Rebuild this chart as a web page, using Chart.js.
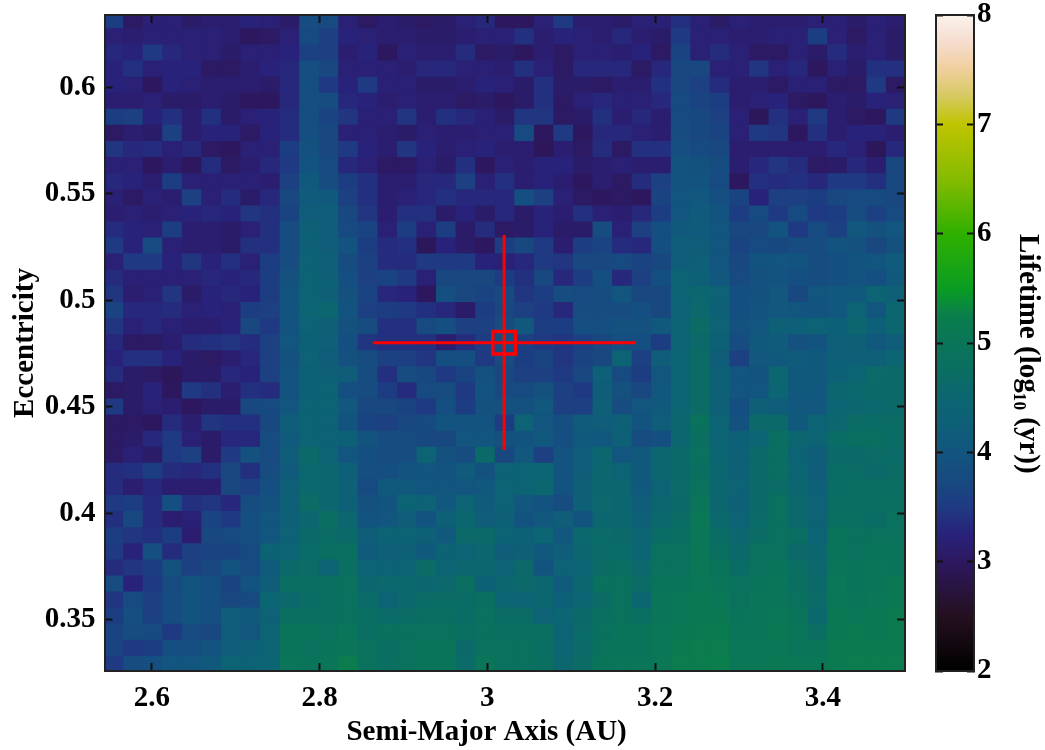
<!DOCTYPE html>
<html>
<head>
<meta charset="utf-8">
<title>Lifetime map</title>
<script src="https://cdn.jsdelivr.net/npm/chart.js@4/dist/chart.umd.js"></script>
<style>
  html, body { margin: 0; padding: 0; background: #fff; }
  #wrap { position: relative; width: 1045px; height: 750px; overflow: hidden; }
  canvas { position: absolute; top: 0; filter: blur(0.5px); }
  #heat { left: 0; }
  #bar { left: 915px; }
</style>
</head>
<body>
<div id="wrap">
  <canvas id="heat" width="915" height="750"></canvas>
  <canvas id="bar" width="130" height="750"></canvas>
</div>
<script>
// cell centres
const semiMajorAxis = [2.5548, 2.5781, 2.6014, 2.6247, 2.6481, 2.6714, 2.6947, 2.7180, 2.7413, 2.7647, 2.7880, 2.8113, 2.8346, 2.8579, 2.8813, 2.9046, 2.9279, 2.9512, 2.9745, 2.9979, 3.0212, 3.0445, 3.0678, 3.0911, 3.1145, 3.1378, 3.1611, 3.1844, 3.2077, 3.2311, 3.2544, 3.2777, 3.3010, 3.3243, 3.3477, 3.3710, 3.3943, 3.4176, 3.4409, 3.4643, 3.4876];
const eccentricity = [0.6310, 0.6235, 0.6159, 0.6084, 0.6008, 0.5933, 0.5857, 0.5782, 0.5706, 0.5631, 0.5555, 0.5480, 0.5404, 0.5329, 0.5253, 0.5178, 0.5102, 0.5027, 0.4951, 0.4876, 0.4800, 0.4725, 0.4649, 0.4574, 0.4498, 0.4423, 0.4347, 0.4272, 0.4196, 0.4121, 0.4045, 0.3970, 0.3894, 0.3819, 0.3743, 0.3668, 0.3592, 0.3517, 0.3441, 0.3366, 0.3290];

// log10 lifetime, one row per eccentricity (top of the plot first)
const lifetimeRows = [
  [3.55,3.05,3.2,3.2,3.1,3.15,3.15,3.25,3.2,3.1,3.8,3.75,3.2,3.05,3.15,3.1,3.05,3.1,3.2,3.3,3.0,3.0,3.2,3.5,3.15,3.15,3.1,3.2,3.2,3.4,3.2,3.1,3.2,3.15,3.15,3.15,3.2,3.2,3.1,3.2,3.15],
  [3.2,3.15,3.2,3.2,3.2,3.2,3.15,3.0,3.05,3.2,3.75,3.6,3.25,3.2,3.15,3.15,3.1,3.1,3.15,3.2,3.2,3.4,3.15,3.25,3.2,3.15,3.3,3.15,3.1,3.5,3.2,3.2,3.15,3.15,3.2,3.2,3.55,3.2,3.05,3.2,3.1],
  [3.3,3.25,3.5,3.3,3.2,3.2,3.1,3.2,3.2,3.25,3.6,3.6,3.15,3.25,3.0,3.2,3.15,3.15,3.35,3.05,3.1,3.0,3.15,3.05,3.2,3.2,3.15,3.25,3.05,3.65,3.2,3.35,3.2,3.05,3.05,3.2,3.1,3.35,3.15,3.2,3.1],
  [3.25,3.4,3.2,3.25,3.25,3.05,3.05,3.15,3.25,3.3,3.85,3.7,3.2,3.2,3.2,3.15,3.3,3.3,3.2,3.2,3.15,3.4,3.2,3.05,3.3,3.3,3.3,3.05,3.3,3.7,3.7,3.2,3.2,3.45,3.2,3.3,3.0,3.2,3.1,3.4,3.4],
  [3.25,3.2,3.0,3.25,3.2,3.15,3.15,3.15,3.1,3.3,3.85,3.5,3.25,3.5,3.2,3.2,3.1,3.1,3.15,3.25,3.2,3.1,3.4,3.1,3.1,3.05,3.15,3.15,3.4,3.7,3.6,3.35,3.15,3.15,3.05,3.2,3.2,3.05,3.05,3.5,3.05],
  [3.15,3.15,3.2,3.1,3.1,3.15,3.1,3.0,3.0,3.3,3.85,3.8,3.3,3.25,3.15,3.2,3.15,3.15,3.05,3.1,3.0,3.1,3.4,3.05,3.2,3.3,3.2,3.2,3.3,3.75,3.65,3.55,3.15,3.2,3.25,3.05,3.0,3.15,3.1,3.25,3.2],
  [3.55,3.6,3.25,3.4,3.15,3.4,3.1,3.2,3.25,3.35,3.85,3.65,3.45,3.2,3.2,3.45,3.15,3.4,3.3,3.2,3.1,3.45,3.45,3.05,3.1,3.4,3.15,3.3,3.15,3.75,3.7,3.6,3.2,2.95,3.4,3.2,3.5,3.15,3.05,3.0,3.5],
  [3.05,3.15,3.1,3.6,3.15,3.25,3.25,3.05,3.25,3.35,3.85,3.7,3.2,3.2,3.15,3.1,3.2,3.15,3.15,3.2,3.2,3.75,3.0,3.5,3.0,3.3,3.3,3.2,3.15,3.8,3.7,3.65,3.2,3.5,3.45,3.0,3.4,3.15,3.25,3.25,3.15],
  [3.45,3.3,3.35,3.2,3.3,3.05,3.0,3.2,3.2,3.55,3.9,3.7,3.5,3.25,3.15,3.45,3.25,3.15,3.2,3.25,3.15,3.15,2.95,3.15,3.05,3.35,3.05,3.4,3.4,3.85,3.75,3.7,3.15,3.15,3.15,3.15,3.15,3.3,3.2,2.95,3.3],
  [3.2,3.2,3.0,3.15,3.0,3.35,3.05,3.15,3.3,3.5,3.95,3.75,3.3,3.2,3.05,3.05,3.2,3.1,3.4,3.0,3.2,3.15,3.25,3.25,3.1,3.15,3.2,3.15,3.15,3.95,3.9,3.8,3.15,3.3,3.45,3.35,3.05,3.1,3.3,3.15,3.7],
  [3.3,3.25,3.15,3.55,3.2,3.2,3.2,3.2,3.15,3.6,4.1,3.8,3.55,3.4,3.15,3.15,3.3,3.3,3.6,3.2,3.4,3.15,3.25,3.15,3.0,3.15,3.05,3.35,3.6,3.95,3.95,3.75,3.0,3.4,3.35,3.4,3.3,3.5,3.5,3.4,3.7],
  [3.2,3.05,3.2,3.15,3.6,3.2,3.35,3.1,3.3,3.7,4.15,4.1,3.6,3.4,3.15,3.2,3.3,3.4,3.3,3.3,3.3,3.85,3.6,3.2,3.05,3.0,3.05,3.0,3.65,4.0,4.05,3.85,3.65,3.25,3.6,3.6,3.55,3.7,3.75,3.75,3.7],
  [3.15,3.2,3.15,3.2,3.25,3.3,3.25,3.45,3.4,3.65,4.2,4.2,3.7,3.45,3.15,3.4,3.4,3.1,3.25,3.1,3.3,3.1,3.25,3.15,3.4,3.2,3.15,3.3,3.55,4.0,4.15,3.95,3.55,3.75,3.5,3.75,3.5,3.55,3.8,3.6,3.75],
  [3.35,3.25,3.2,3.55,3.15,3.15,3.1,3.2,3.4,3.8,4.3,4.2,3.75,3.65,3.2,3.55,3.2,3.55,3.1,3.35,3.05,3.1,3.25,3.1,3.1,3.8,3.2,3.6,3.85,4.1,4.15,4.0,3.7,3.7,3.95,3.5,3.75,3.6,4.05,3.9,4.0],
  [3.5,3.25,3.75,3.2,3.15,3.15,3.1,3.4,3.4,3.8,4.3,4.2,3.95,3.55,3.35,3.4,2.95,3.25,3.1,3.0,3.55,3.7,3.5,3.15,3.55,3.65,3.35,3.3,3.85,4.2,4.2,4.0,3.65,3.75,3.7,3.8,3.8,3.95,3.9,3.7,3.9],
  [3.2,3.5,3.5,3.25,3.45,3.25,3.4,3.2,3.55,3.8,4.35,4.25,3.8,3.6,3.35,3.35,3.5,3.5,3.5,3.25,3.2,3.3,3.5,3.45,3.7,3.7,3.75,3.65,3.7,4.2,4.25,4.0,3.7,3.95,4.0,3.95,3.8,3.85,3.95,4.0,4.15],
  [3.35,3.2,3.2,3.2,3.2,3.3,3.25,3.3,3.55,3.9,4.4,4.3,3.85,3.6,3.65,3.5,3.2,3.7,3.7,3.7,3.55,3.4,3.7,3.3,3.55,3.85,3.3,3.6,3.85,4.4,4.3,4.05,3.75,3.9,3.95,3.85,3.8,3.85,3.95,3.85,4.1],
  [3.45,3.15,3.2,3.45,3.1,3.25,3.3,3.25,3.55,3.95,4.4,4.3,3.9,3.65,3.3,3.25,3.0,3.85,3.7,3.65,3.75,3.45,3.55,3.8,3.75,3.8,4.0,3.7,3.7,4.4,4.5,4.35,3.85,3.9,4.05,3.7,4.0,4.05,4.1,4.4,4.3],
  [3.65,3.3,3.3,3.35,3.2,3.25,3.2,3.55,3.6,3.95,4.45,4.5,3.95,3.6,3.55,3.5,3.4,3.3,3.1,3.55,3.7,3.6,3.5,3.3,3.8,3.8,3.8,3.85,3.7,4.35,4.55,4.3,3.85,3.95,4.05,4.0,3.95,4.05,4.4,4.0,4.5],
  [3.45,3.2,3.3,3.2,3.15,3.15,3.25,3.7,3.5,3.95,4.35,4.3,3.9,3.8,3.4,3.4,3.75,3.85,3.6,3.6,3.8,4.05,3.55,3.55,3.85,3.85,3.9,3.9,4.1,4.4,4.7,4.35,3.9,4.0,4.3,4.25,4.35,4.25,4.5,4.25,4.5],
  [3.3,3.05,3.05,3.15,3.35,3.4,3.45,3.35,3.6,4.0,4.3,4.25,3.85,3.45,3.4,3.4,3.4,3.15,3.35,3.55,3.85,3.6,3.5,3.45,3.6,3.7,3.85,3.85,3.55,4.4,4.6,4.3,3.8,4.1,4.15,3.9,3.95,4.25,4.3,4.1,4.2],
  [3.25,3.4,3.4,3.25,3.1,3.05,3.15,3.3,3.6,3.9,4.35,4.2,3.9,3.8,3.6,3.6,3.45,3.85,3.85,3.5,3.8,3.55,3.65,3.45,3.65,3.7,4.4,3.6,4.2,4.45,4.7,4.2,3.6,4.05,4.1,4.15,4.1,4.25,4.25,4.25,4.45],
  [3.35,3.1,3.05,2.95,3.1,3.1,3.3,3.25,3.6,3.95,4.3,4.3,4.2,3.8,3.4,3.8,3.7,3.5,3.65,3.9,3.7,3.6,3.6,3.5,3.7,4.25,3.75,3.55,4.0,4.45,4.7,4.3,4.0,3.95,4.5,4.1,4.1,4.3,4.45,4.65,4.6],
  [3.05,3.1,3.25,3.0,3.5,3.4,3.15,3.4,3.35,3.95,4.3,4.4,3.85,3.8,3.55,3.35,3.75,3.8,3.5,3.95,3.75,3.75,3.9,3.6,3.5,4.2,3.9,3.7,4.05,4.45,4.7,4.3,4.0,4.0,4.45,4.1,4.05,4.5,4.55,4.6,4.6],
  [3.5,3.1,3.2,3.15,3.0,3.1,3.1,3.7,3.75,4.0,4.4,4.4,4.05,3.7,3.7,3.65,3.5,3.85,3.55,3.9,3.9,3.9,4.05,3.6,3.6,4.3,3.8,4.0,4.1,4.45,4.7,4.3,3.85,4.3,4.2,4.05,4.05,4.45,4.5,4.55,4.6],
  [3.05,3.05,3.0,3.35,3.15,3.45,3.4,3.4,3.7,4.2,4.4,4.35,3.95,3.65,3.6,3.7,3.75,3.95,3.95,3.95,3.55,4.35,4.0,3.85,4.15,4.2,4.3,3.95,4.2,4.5,4.9,4.4,3.9,4.6,4.6,4.1,4.4,4.5,4.7,4.7,4.7],
  [3.05,3.1,3.3,3.5,3.2,3.1,3.3,3.3,3.8,4.15,4.4,4.35,4.3,3.95,3.8,3.8,3.7,3.7,4.0,4.0,3.9,3.95,4.05,3.85,4.1,4.05,4.3,3.8,3.85,4.5,4.8,4.4,4.3,4.45,4.8,4.5,4.4,4.7,4.8,4.8,4.7],
  [3.05,3.2,3.1,3.5,3.6,3.1,3.5,3.9,3.75,4.2,4.6,4.4,4.0,3.85,3.8,3.8,4.4,3.9,3.8,4.6,3.7,4.05,3.6,3.95,4.2,4.5,4.0,4.1,4.5,4.6,4.85,4.45,4.3,4.6,4.75,4.4,4.2,4.6,4.6,4.7,4.65],
  [3.35,3.4,3.55,3.35,3.3,3.4,3.7,3.4,3.8,4.15,4.55,4.5,4.25,3.85,3.85,3.95,4.0,3.95,4.15,3.9,4.35,4.4,4.45,3.95,4.2,4.5,4.4,4.1,4.5,4.6,4.8,4.5,4.3,4.6,4.75,4.45,4.2,4.7,4.7,4.6,4.7],
  [3.35,3.15,3.3,3.15,3.15,3.15,3.7,3.6,3.85,4.3,4.55,4.5,4.3,3.75,4.1,4.1,4.0,4.0,4.0,4.05,4.4,4.4,4.5,3.95,4.3,4.5,4.5,4.1,4.4,4.65,4.9,4.5,4.35,4.6,4.7,4.5,4.25,4.7,4.75,4.75,4.75],
  [3.5,3.55,3.35,3.85,3.4,3.45,3.3,3.8,3.9,4.3,4.7,4.5,4.3,3.9,3.95,4.4,4.35,4.05,4.4,4.15,4.35,4.05,3.95,3.8,4.3,4.55,4.5,4.2,4.5,4.6,5.0,4.5,4.3,4.6,4.85,4.55,4.35,4.75,4.75,4.75,4.8],
  [3.4,3.7,3.35,3.15,3.2,3.65,3.5,3.85,4.0,4.3,4.5,4.75,4.5,3.95,4.0,4.2,3.95,4.3,4.5,4.2,4.3,3.95,4.05,4.2,3.95,4.5,4.5,4.3,4.55,4.7,5.05,4.55,4.35,4.65,4.85,4.55,4.35,4.8,4.8,4.7,4.85],
  [3.55,3.45,3.4,3.55,3.15,3.7,3.75,3.85,4.0,4.35,4.6,4.7,4.6,4.2,4.4,4.4,4.3,4.1,4.6,4.6,4.4,4.3,4.45,4.05,4.55,4.65,4.6,4.45,4.7,4.75,5.05,4.7,4.5,4.7,4.85,4.75,4.4,4.95,4.9,4.9,4.9],
  [3.5,3.25,3.85,3.35,3.6,3.65,3.65,3.75,4.4,4.4,4.65,4.75,4.8,4.15,4.25,4.3,4.1,4.4,4.4,4.5,4.2,4.3,4.1,4.2,4.5,4.65,4.65,4.45,4.85,4.85,5.05,4.8,4.6,4.85,4.9,4.6,4.5,4.95,4.85,4.95,4.95],
  [3.35,3.45,3.55,3.9,3.6,3.7,3.95,3.75,4.15,4.6,4.7,4.4,4.75,4.4,4.35,4.4,4.7,4.4,4.5,4.5,4.35,4.6,3.95,4.35,4.45,4.7,4.75,4.55,4.9,4.9,5.05,4.95,4.7,4.9,4.95,4.75,4.55,5.0,4.95,5.0,4.95],
  [3.8,3.25,3.5,3.75,3.95,3.85,3.65,3.95,4.2,4.75,4.75,4.8,4.9,4.5,4.55,4.55,4.5,4.55,4.8,4.3,4.5,4.6,4.5,4.15,4.5,4.85,4.85,4.7,4.95,4.95,5.05,5.0,4.85,4.95,5.0,4.8,4.6,5.05,4.95,5.0,5.1],
  [3.45,3.75,3.6,3.8,3.95,3.85,3.7,3.75,4.45,4.55,4.7,4.8,4.85,4.65,4.4,4.55,4.7,4.7,4.7,4.8,4.45,4.4,4.5,4.25,4.45,4.7,4.9,4.5,5.0,5.05,5.1,5.05,4.9,5.0,5.0,4.85,4.65,5.05,5.0,5.05,5.1],
  [3.55,3.85,3.6,3.8,3.95,3.85,4.2,4.1,4.35,4.8,4.8,4.8,4.9,4.75,4.65,4.7,4.75,4.75,4.7,4.85,4.7,4.7,4.35,4.45,4.6,4.8,4.9,4.75,5.0,5.05,5.1,5.1,4.95,5.0,5.05,4.95,4.55,5.1,5.05,5.1,5.15],
  [3.65,3.8,3.75,3.5,3.75,3.7,4.2,4.0,4.4,4.95,4.95,4.9,5.0,4.75,4.85,4.85,4.85,4.85,4.8,4.85,4.8,4.8,4.8,4.4,4.65,4.85,4.95,4.95,5.05,5.1,5.15,5.15,5.0,5.0,5.1,5.0,4.75,5.1,5.15,5.1,5.15],
  [3.65,3.5,3.55,3.85,3.85,3.95,4.2,4.25,4.4,4.95,4.9,4.95,5.0,4.85,4.75,4.85,4.95,4.95,4.6,4.9,4.85,4.85,4.75,4.45,4.65,4.9,4.95,4.95,5.05,5.15,5.2,5.2,5.05,5.05,5.05,5.0,5.0,5.15,5.15,5.15,5.15],
  [3.5,3.8,3.85,4.0,4.0,4.1,4.4,4.35,4.45,5.0,4.95,5.0,5.2,4.9,4.75,4.9,4.95,4.95,4.65,5.0,4.85,4.85,4.8,4.5,4.7,4.95,5.0,5.0,5.05,5.2,5.2,5.25,5.05,5.05,5.1,5.05,5.05,5.15,5.2,5.2,5.2]
];

// the red marker and its two error bars
const markerA = 3.02;
const markerE = 0.48;
const errorA = [2.8635, 3.177];
const errorE = [0.4297, 0.5306];

const xTicks = [2.6, 2.8, 3, 3.2, 3.4];
const xTickLabels = ['2.6', '2.8', '3', '3.2', '3.4'];
const yTicks = [0.35, 0.4, 0.45, 0.5, 0.55, 0.6];
const yTickLabels = ['0.35', '0.4', '0.45', '0.5', '0.55', '0.6'];
const barTicks = [2, 3, 4, 5, 6, 7, 8];
const barTickLabels = ['2', '3', '4', '5', '6', '7', '8'];

// colour table, taken from the colour bar
const colourValues = [2, 2.5, 3, 3.25, 3.5, 3.75, 4, 4.25, 4.5, 4.75, 5, 5.25, 5.5, 6, 6.5, 7, 7.25, 7.5, 7.75, 8];
const colourCodes = ['#000000', '#24101f', '#2d1860', '#29227a', '#1f3a82', '#174a80', '#12557f', '#0e5f78', '#0b6670', '#0a6e62', '#0a7558', '#0a7e4c', '#0a9d22', '#2fb000', '#86bb00', '#bfc400', '#d5c95f', '#f0cf9c', '#f6dccf', '#fbf3ec'];

function hexToRgb(hex) {
  return [1, 3, 5].map(i => parseInt(hex.slice(i, i + 2), 16));
}

function colourFor(v) {
  let i = 0;
  while (i < colourValues.length - 2 && v > colourValues[i + 1]) i++;
  const t = (v - colourValues[i]) / (colourValues[i + 1] - colourValues[i]);
  const a = hexToRgb(colourCodes[i]);
  const b = hexToRgb(colourCodes[i + 1]);
  const c = a.map((n, k) => Math.round(n + (b[k] - n) * t));
  return `rgb(${c[0]},${c[1]},${c[2]})`;
}

const serif = '"Liberation Serif", "Times New Roman", serif';
// z above the grid, otherwise the frame is drawn before the scale knows its edge
const frame = { color: '#222222', width: 2, z: 2 };
const tickFont = { family: serif, size: 29, weight: 'bold', lineHeight: 1 };
const titleFont = { family: serif, size: 29, weight: 'bold', lineHeight: 1.2 };

function inwardGrid(length) {
  return { drawOnChartArea: false, offset: false, tickLength: -length, tickWidth: 2, tickColor: '#111111', z: 1 };
}

// fixed axis box, and no label overhang so the plot area stays where it belongs
function fixBox(side, size) {
  return s => {
    s[side] = size;
    s.paddingLeft = s.paddingRight = s.paddingTop = s.paddingBottom = 0;
  };
}

// the heat map: every cell is a floating bar on the real axes
const halfRow = (eccentricity[0] - eccentricity[eccentricity.length - 1]) / (eccentricity.length - 1) / 2;
const cells = [];
lifetimeRows.forEach((row, r) => {
  row.forEach((v, c) => {
    cells.push({ x: semiMajorAxis[c], y: [eccentricity[r] - halfRow, eccentricity[r] + halfRow], v: v });
  });
});

new Chart(document.getElementById('heat'), {
  data: {
    datasets: [
      {
        type: 'scatter',
        data: [{ x: markerA, y: markerE }],
        pointStyle: 'rect',
        pointRadius: 16,
        pointBorderWidth: 3.5,
        pointBorderColor: '#ff0000',
        pointBackgroundColor: 'rgba(0,0,0,0)',
        order: 1
      },
      {
        type: 'line',
        data: errorA.map(a => ({ x: a, y: markerE })),
        borderColor: '#ff0000',
        borderWidth: 3,
        pointRadius: 0,
        order: 2
      },
      {
        type: 'line',
        data: errorE.map(e => ({ x: markerA, y: e })),
        borderColor: '#ff0000',
        borderWidth: 3,
        pointRadius: 0,
        order: 3
      },
      {
        type: 'bar',
        data: cells,
        backgroundColor: cells.map(cell => colourFor(cell.v)),
        categoryPercentage: 1,
        barPercentage: 1,
        inflateAmount: 0.6,
        order: 4
      }
    ]
  },
  options: {
    responsive: false,
    animation: false,
    // autoPadding off: the marker's radius would otherwise push the plot area in
    layout: { autoPadding: false, padding: { top: 15, right: 10, bottom: 0, left: 0 } },
    plugins: { legend: { display: false }, tooltip: { enabled: false } },
    scales: {
      x: {
        type: 'linear',
        position: 'bottom',
        offset: false,
        min: 2.5435,
        max: 3.498,
        grid: inwardGrid(8),
        border: frame,
        afterBuildTicks: s => { s.ticks = xTicks.map(value => ({ value })); },
        afterFit: fixBox('height', 79),
        ticks: {
          autoSkip: false, maxRotation: 0, padding: 21, color: '#000', font: tickFont,
          callback: (value, i) => xTickLabels[i]
        },
        // trailing spaces: the title sits left of the plot centre in the original
        title: { display: true, text: 'Semi-Major Axis (AU)\u00a0\u00a0\u00a0\u00a0\u00a0', color: '#000', font: titleFont, padding: 0 }
      },
      y: {
        type: 'linear',
        position: 'left',
        min: 0.326,
        max: 0.6338,
        grid: inwardGrid(8),
        border: frame,
        afterBuildTicks: s => { s.ticks = yTicks.map(value => ({ value })); },
        afterFit: fixBox('width', 104.5),
        ticks: {
          autoSkip: false, padding: 17, color: '#000', font: tickFont,
          callback: (value, i) => yTickLabels[i]
        },
        title: { display: true, text: 'Eccentricity', color: '#000', font: titleFont, padding: 8 }
      },
      x2: {
        type: 'linear',
        position: 'top',
        offset: false,
        min: 2.5435,
        max: 3.498,
        grid: inwardGrid(8),
        border: frame,
        afterBuildTicks: s => { s.ticks = xTicks.map(value => ({ value })); },
        afterFit: fixBox('height', 0),
        ticks: { display: false }
      },
      y2: {
        type: 'linear',
        position: 'right',
        min: 0.326,
        max: 0.6338,
        grid: inwardGrid(8),
        border: frame,
        afterBuildTicks: s => { s.ticks = yTicks.map(value => ({ value })); },
        afterFit: fixBox('width', 0),
        ticks: { display: false }
      }
    }
  }
});

// colour bar: one floating bar from 2 to 8 filled with the colour table
function barGradient(context) {
  const chart = context.chart;
  const area = chart.chartArea;
  if (!area) return '#000';
  const scale = chart.scales.y;
  const g = chart.ctx.createLinearGradient(0, scale.getPixelForValue(2), 0, scale.getPixelForValue(8));
  colourValues.forEach((v, i) => g.addColorStop((v - 2) / 6, colourCodes[i]));
  return g;
}

new Chart(document.getElementById('bar'), {
  type: 'bar',
  data: {
    labels: ['Lifetime'],
    datasets: [{
      data: [[barTicks[0], barTicks[barTicks.length - 1]]],
      backgroundColor: barGradient,
      categoryPercentage: 1,
      barPercentage: 1
    }]
  },
  options: {
    responsive: false,
    animation: false,
    layout: { padding: { top: 15, right: 0, bottom: 0, left: 0 } },
    plugins: { legend: { display: false }, tooltip: { enabled: false } },
    scales: {
      x: {
        position: 'bottom',
        grid: { display: false },
        border: frame,
        afterFit: fixBox('height', 79),
        ticks: { display: false }
      },
      x2: {
        type: 'linear',
        position: 'top',
        min: 0,
        max: 1,
        grid: { display: false },
        border: frame,
        afterFit: fixBox('height', 0),
        ticks: { display: false }
      },
      y: {
        type: 'linear',
        position: 'right',
        min: 2,
        max: 8,
        grid: inwardGrid(7),
        border: frame,
        afterBuildTicks: s => { s.ticks = barTicks.map(value => ({ value })); },
        afterFit: fixBox('width', 71),
        ticks: {
          autoSkip: false, padding: 10, color: '#000', font: tickFont,
          callback: (value, i) => barTickLabels[i]
        },
        // leading spaces push the title down as in the original
        title: { display: true, text: '\u00a0\u00a0\u00a0Lifetime (log₁₀ (yr))', color: '#000', font: titleFont, padding: 0 }
      },
      y2: {
        type: 'linear',
        position: 'left',
        min: 2,
        max: 8,
        grid: inwardGrid(7),
        border: frame,
        afterBuildTicks: s => { s.ticks = barTicks.map(value => ({ value })); },
        afterFit: fixBox('width', 21),
        ticks: { display: false }
      }
    }
  }
});
</script>
</body>
</html>
